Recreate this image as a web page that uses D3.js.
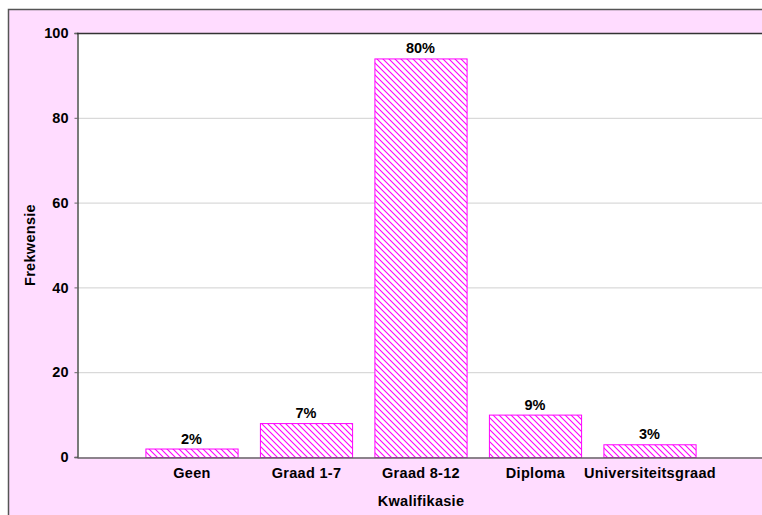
<!DOCTYPE html>
<html><head><meta charset="utf-8">
<script src="https://cdn.jsdelivr.net/npm/d3@7"></script>
<style>body{margin:0;background:#fff}svg{display:block}</style>
</head><body>
<svg id="c" width="762" height="515"></svg>
<script>
const categories = ["Geen", "Graad 1-7", "Graad 8-12", "Diploma", "Universiteitsgraad"];
const values = [2, 8, 94, 10, 3];
const labels = ["2%", "7%", "80%", "9%", "3%"];
const yTicks = [0, 20, 40, 60, 80, 100];

const svg = d3.select("#c");
const font = "'Liberation Sans', Arial, sans-serif";
const fs = 14.5;
const pink = "#ffdcff";
const mag = "#ff00ff";

// outer frame
svg.append("rect").attr("x", 8.5).attr("y", 9.5).attr("width", 800).attr("height", 600)
  .attr("fill", pink).attr("stroke", "#555").attr("stroke-width", 1.5);

const L = 77, T = 33, R = 764, B = 457;
const x = d3.scaleLinear().domain([0, categories.length + 1]).range([L, R]);
const y = d3.scaleLinear().domain([0, 100]).range([B, T]);
const step = x(1) - x(0);
const bw = step * 0.805;

// pattern
const defs = svg.append("defs");
const pat = defs.append("pattern").attr("id", "hatch").attr("patternUnits", "userSpaceOnUse")
  .attr("width", 6).attr("height", 6);
pat.append("rect").attr("width", 6).attr("height", 6).attr("fill", "#fff");
pat.append("path").attr("d", "M-1,-1 L7,7 M-1,5 L1,7 M5,-1 L7,1")
  .attr("stroke", mag).attr("stroke-width", 1.1);

// plot area
svg.append("rect").attr("x", L).attr("y", T).attr("width", R - L).attr("height", B - T)
  .attr("fill", "#fff");

// grid
svg.append("g").selectAll("line").data(yTicks.filter(d => d > 0 && d < 100)).join("line")
  .attr("x1", L).attr("x2", R).attr("y1", d => y(d) + 0.5).attr("y2", d => y(d) + 0.5)
  .attr("stroke", "#d0d0d0").attr("stroke-width", 1);

// bars
svg.append("g").selectAll("rect").data(values).join("rect")
  .attr("x", (d, i) => x(i + 1) - bw / 2 + 0.5)
  .attr("y", d => y(d) + 0.5)
  .attr("width", bw)
  .attr("height", d => y(0) - y(d))
  .attr("fill", "url(#hatch)")
  .attr("stroke", mag).attr("stroke-width", 1);

// value labels
svg.append("g").selectAll("text").data(values).join("text")
  .attr("x", (d, i) => x(i + 1))
  .attr("y", d => y(d) - 5)
  .attr("text-anchor", "middle")
  .attr("font-family", font).attr("font-weight", "bold").attr("font-size", fs)
  .attr("fill", "#000")
  .text((d, i) => labels[i]);

// y axis
const yAxis = d3.axisLeft(y).tickValues(yTicks).tickSize(3).tickPadding(6).tickFormat(d3.format("d"));
const ya = svg.append("g").attr("transform", `translate(${L + 0.5},0)`).call(yAxis);
ya.select(".domain").attr("stroke", "#333").attr("stroke-width", 1.3);
ya.selectAll(".tick line").attr("stroke", "#666");
ya.selectAll("text").attr("font-family", font).attr("font-weight", "bold").attr("font-size", fs).attr("fill", "#000");

// top border
svg.append("line").attr("x1", L).attr("x2", R).attr("y1", T + 0.5).attr("y2", T + 0.5)
  .attr("stroke", "#333").attr("stroke-width", 1.3);

// x axis
const xAxis = d3.axisBottom(x).tickValues(d3.range(1, categories.length + 1))
  .tickSize(0).tickPadding(8).tickFormat(d => categories[d - 1]);
const xa = svg.append("g").attr("transform", `translate(0,${B + 0.5})`).call(xAxis);
xa.select(".domain").attr("stroke", "#666").attr("stroke-width", 1.5);
xa.selectAll("text").attr("font-family", font).attr("font-weight", "bold").attr("font-size", fs)
  .attr("letter-spacing", 0.3).attr("fill", "#000").attr("dy", "0.85em");

// axis titles
svg.append("text").attr("x", 421).attr("y", 506).attr("text-anchor", "middle")
  .attr("font-family", font).attr("font-weight", "bold").attr("font-size", fs)
  .attr("letter-spacing", 0.3).text("Kwalifikasie");
svg.append("text").attr("transform", `translate(35,245) rotate(-90)`).attr("text-anchor", "middle")
  .attr("font-family", font).attr("font-weight", "bold").attr("font-size", fs)
  .attr("letter-spacing", 0.3).text("Frekwensie");
</script>
</body></html>
